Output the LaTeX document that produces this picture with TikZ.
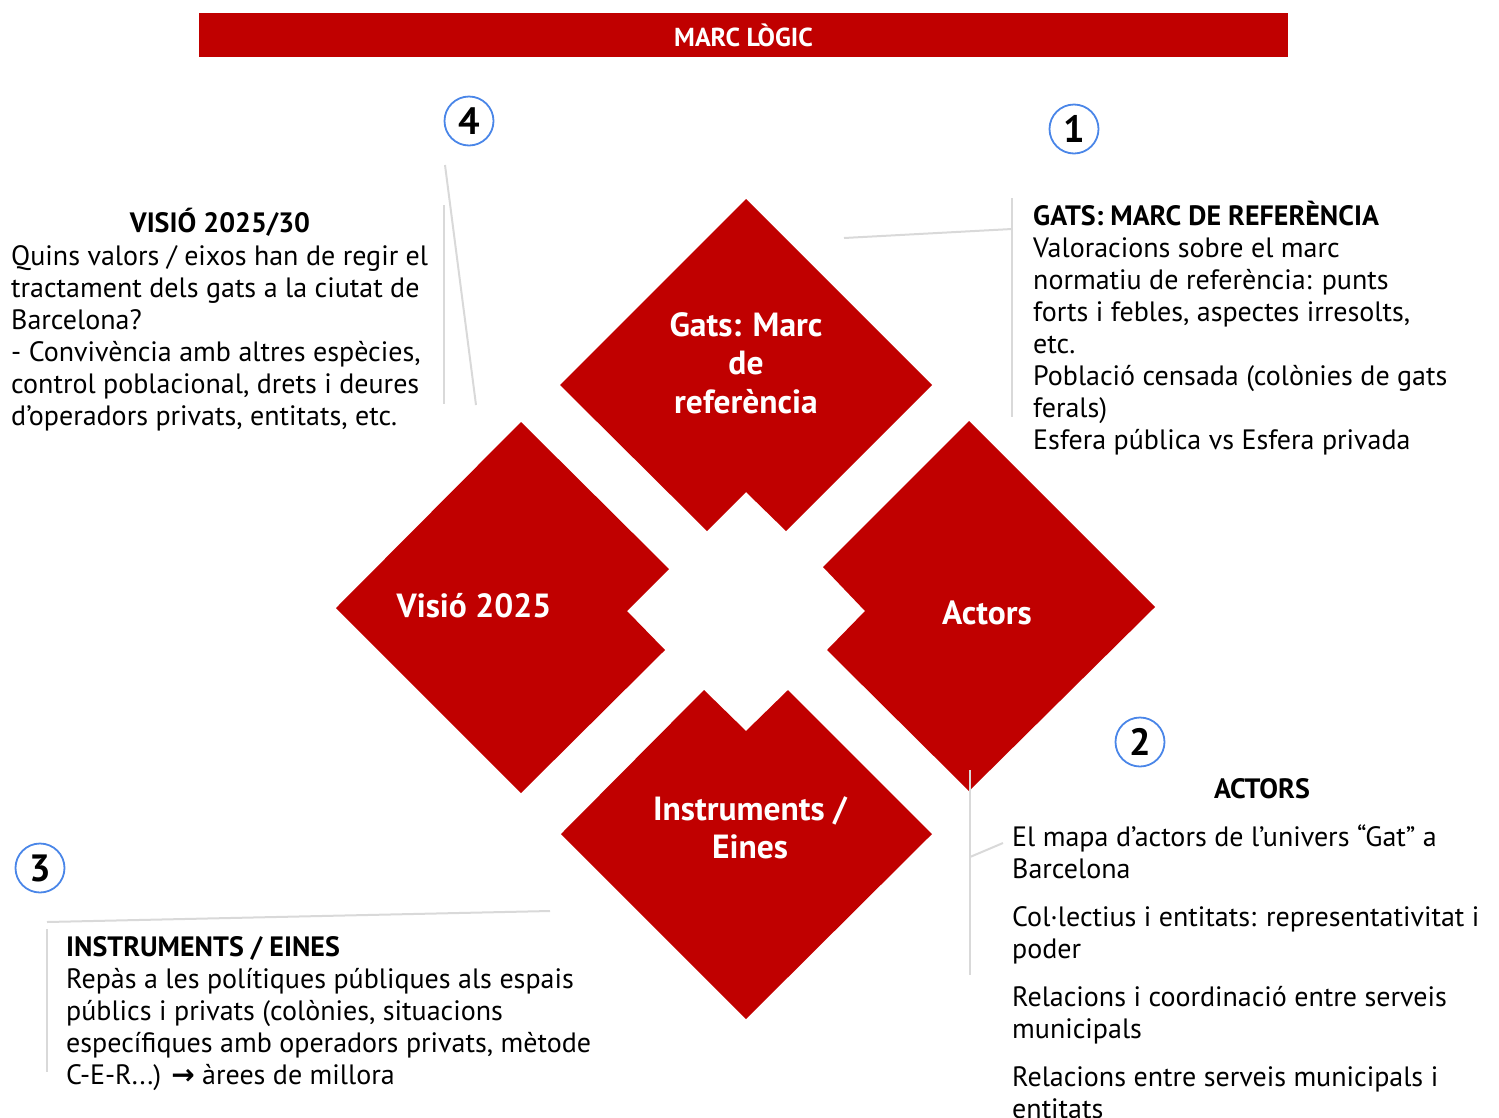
\documentclass[tikz,border=0pt]{standalone}
\usepackage{fontspec}
\setmainfont{PT Sans}
\newfontfamily\arrowfont{DejaVu Sans}
\usetikzlibrary{positioning}
\definecolor{marcred}{HTML}{C00000}
\definecolor{guidegray}{HTML}{D9D9D9}
\definecolor{ringblue}{HTML}{4A86E8}
\tikzstyle{piece} = [
    fill=marcred,
    draw=none
]
\tikzstyle{piecetext} = [
    text=white,
    align=center,
    inner sep=0pt,
    font=\fontsize{33.5}{38.5}\selectfont\bfseries
]
\tikzstyle{numring} = [
    circle,
    draw=ringblue,
    line width=1.8pt,
    minimum size=49pt,
    inner sep=0pt,
    font=\fontsize{38}{38}\selectfont\bfseries
]
\tikzstyle{bodytext} = [
    anchor=base west,
    align=left,
    inner sep=0pt,
    font=\fontsize{28}{32}\selectfont
]
\tikzstyle{headtext} = [
    anchor=base,
    inner sep=0pt,
    font=\fontsize{28}{32}\selectfont\bfseries
]
\tikzstyle{guide} = [draw=guidegray, line width=2pt]

\begin{document}
\begin{tikzpicture}[x=1pt, y=-1pt]
\useasboundingbox (0,0) rectangle (1499,1117);

\node (title) [fill=marcred, minimum width=1089pt, minimum height=44pt,
  text=white, font=\fontsize{26}{26}\selectfont\bfseries] at (743.5,35) {MARC LÒGIC};

% the four pieces
\fill[piece] (746,199) -- (932,385) -- (786,531) -- (746,492) -- (707,531) -- (560,385) -- cycle;
\fill[piece] (521,422) -- (669,569) -- (627,611) -- (665,650) -- (521,793) -- (336,608) -- cycle;
\fill[piece] (969,421) -- (1155,607) -- (969,791) -- (827,650) -- (865,611) -- (823,567) -- cycle;
\fill[piece] (704,690) -- (746,731) -- (788,690) -- (932,834) -- (746,1019) -- (561,834) -- cycle;

\node (gats) [piecetext] at (746,363) {Gats: Marc\\de\\referència};
\node (visio) [piecetext] at (474,606) {Visió 2025};
\node (actors) [piecetext] at (987,613) {Actors};
\node (eines) [piecetext] at (750,828) {Instruments /\\Eines};

% numbers
\node (n4) [numring] at (469,121) {4};
\node (n1) [numring] at (1074,129) {1};
\node (n2) [numring] at (1140,742) {2};
\node (n3) [numring] at (40,868) {3};

% text blocks (base = last line)
\node (head4) [headtext] at (220,232) {VISIÓ 2025/30};
\node (body4) [bodytext] at (11,425) {Quins valors / eixos han de regir el\\
  tractament dels gats a la ciutat de\\
  Barcelona?\\
  - Convivència amb altres espècies,\\
  control poblacional, drets i deures\\
  d’operadors privats, entitats, etc.};

\node (body1) [bodytext] at (1033,449) {\textbf{GATS: MARC DE REFERÈNCIA}\\
  Valoracions sobre el marc\\
  normatiu de referència: punts\\
  forts i febles, aspectes irresolts,\\
  etc.\\
  Població censada (colònies de gats\\
  ferals)\\
  Esfera pública vs Esfera privada};

\node (head2) [headtext] at (1262,798) {ACTORS};
\node (body2) [bodytext] at (1012,1118) {El mapa d’actors de l’univers “Gat” a\\
  Barcelona\\[16pt]
  Col·lectius i entitats: representativitat i\\
  poder\\[16pt]
  Relacions i coordinació entre serveis\\
  municipals\\[16pt]
  Relacions entre serveis municipals i\\
  entitats};

\node (body3) [bodytext] at (66,1084) {\textbf{INSTRUMENTS / EINES}\\
  Repàs a les polítiques públiques als espais\\
  públics i privats (colònies, situacions\\
  específiques amb operadors privats, mètode\\
  C-E-R...) {\arrowfont\bfseries →} àrees de millora};

% guides
\coordinate (g4top) at (445,165);
\coordinate (g4end) at (476,405);
\coordinate (g4up) at (444,205);
\coordinate (g4low) at (444,404);
\draw[guide] (g4top) -- (g4end);
\draw[guide] (g4up) -- (g4low);

\coordinate (g1tip) at (844,238);
\coordinate (g1join) at (1012,229);
\coordinate (g1up) at (1012,198);
\coordinate (g1low) at (1012,417);
\draw[guide] (g1tip) -- (g1join);
\draw[guide] (g1up) -- (g1low);

\coordinate (g2up) at (970,770);
\coordinate (g2low) at (970,975);
\coordinate (g2join) at (970,857);
\coordinate (g2tip) at (1003,843);
\draw[guide] (g2up) -- (g2low);
\draw[guide] (g2join) -- (g2tip);

\coordinate (g3left) at (47,922);
\coordinate (g3tip) at (550,911);
\coordinate (g3up) at (47,929);
\coordinate (g3low) at (47,1072);
\draw[guide] (g3left) -- (g3tip);
\draw[guide] (g3up) -- (g3low);

\end{tikzpicture}
\end{document}
